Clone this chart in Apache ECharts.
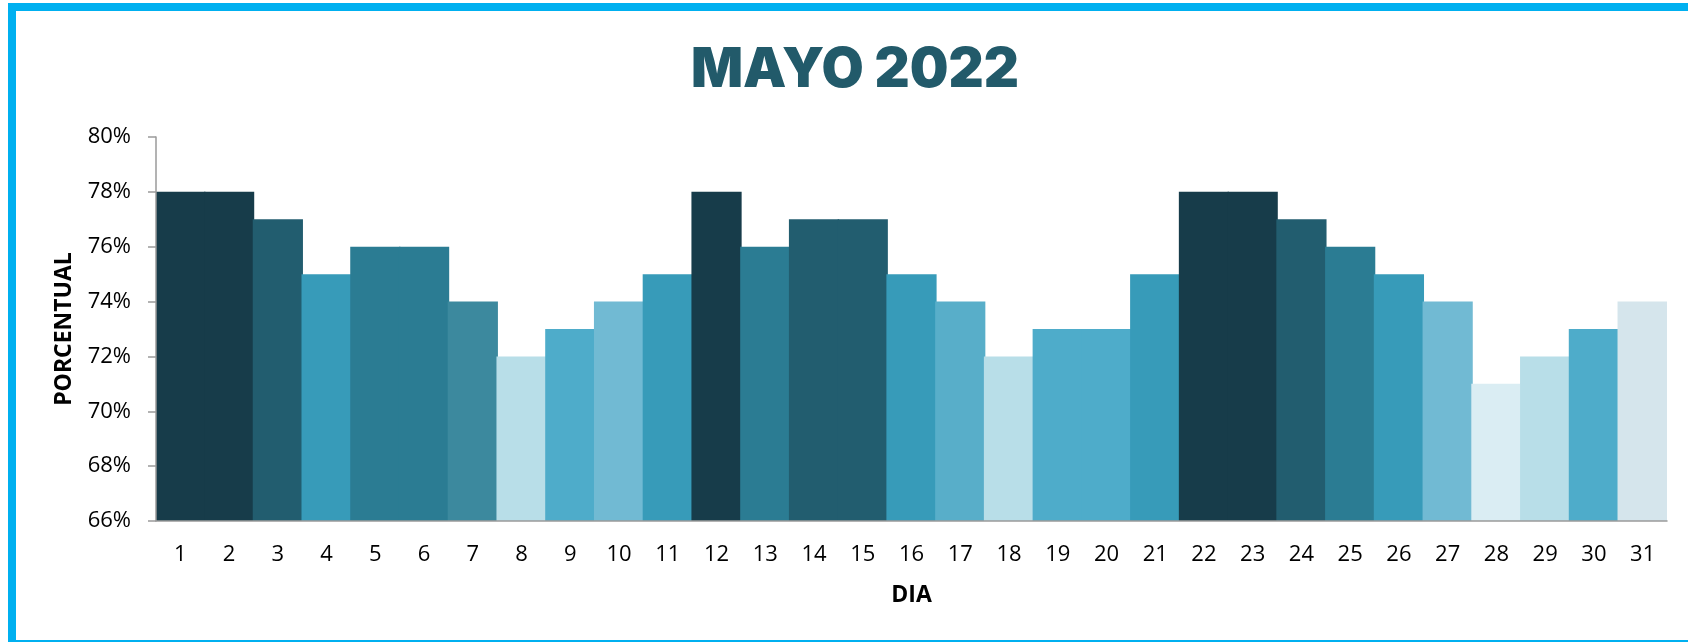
<!DOCTYPE html>
<html>
<head>
<meta charset="utf-8">
<title>MAYO 2022</title>
<script src="https://cdn.jsdelivr.net/npm/echarts@6/dist/echarts.min.js"></script>
<style>
  html, body {
    margin: 0;
    padding: 0;
    width: 1688px;
    height: 642px;
    overflow: hidden;
    background: #ffffff;
  }
  /* marco azul del gráfico */
  .chart-frame {
    position: absolute;
    left: 8px;
    top: 3px;
    width: 1720px;
    height: 645px;
    box-sizing: border-box;
    border: 8px solid #00b0f0;
    pointer-events: none;
  }
  #chart {
    position: absolute;
    left: 0;
    top: 0;
    width: 1688px;
    height: 642px;
  }
</style>
</head>
<body>
<div id="chart"></div>
<div class="chart-frame"></div>
<script>
  // días del mes
  const days = ['1', '2', '3', '4', '5', '6', '7', '8', '9', '10', '11', '12', '13', '14', '15', '16',
    '17', '18', '19', '20', '21', '22', '23', '24', '25', '26', '27', '28', '29', '30', '31'];

  // porcentual por día
  const porcentual = [78, 78, 77, 75, 76, 76, 74, 72, 73, 74, 75, 78, 76, 77, 77, 75,
    74, 72, 73, 73, 75, 78, 78, 77, 76, 75, 74, 71, 72, 73, 74];

  // color de cada barra
  const barColors = [
    '#173c4a', '#173c4a', '#225d6f', '#379bb9', '#2b7c93', '#2b7c93', '#3c899e', '#b8dee8',
    '#4eacca', '#71bad3', '#379bb9', '#173c4a', '#2b7c93', '#225d6f', '#225d6f', '#379bb9',
    '#58aec9', '#b8dee8', '#4eacca', '#4eacca', '#379bb9', '#173c4a', '#173c4a', '#225d6f',
    '#2b7c93', '#379bb9', '#71bad3', '#daedf3', '#b8dee8', '#4eacca', '#d5e5ec'
  ];

  // eje Y
  const yMin = 66;
  const yMax = 80;
  const yStep = 2;

  const chart = echarts.init(document.getElementById('chart'));

  const axisGray = '#9a9a9a';
  const labelFont = '"Open Sans", "Noto Sans", sans-serif';

  chart.setOption({
    animation: false,
    title: {
      text: 'MAYO 2022',
      left: 691,
      top: 43,
      padding: 0,
      textStyle: {
        fontFamily: 'Inter, "DejaVu Sans", sans-serif',
        fontWeight: 900,
        fontSize: 54.5,
        color: '#225a6a'
      }
    },
    grid: {
      left: 156,
      right: 21,
      top: 137,
      bottom: 121
    },
    xAxis: {
      type: 'category',
      data: days,
      z: 5,
      name: 'DIA',
      nameLocation: 'middle',
      nameGap: 63,
      nameTextStyle: {
        fontFamily: labelFont,
        fontWeight: 'bold',
        fontSize: 23,
        color: '#000000'
      },
      axisLine: { lineStyle: { color: axisGray, width: 1.5 } },
      axisTick: { show: false },
      splitLine: { show: false },
      axisLabel: {
        margin: 23,
        fontFamily: labelFont,
        fontSize: 22,
        color: '#000000'
      }
    },
    yAxis: {
      type: 'value',
      min: yMin,
      max: yMax,
      interval: yStep,
      z: 5,
      name: 'PORCENTUAL',
      nameLocation: 'middle',
      nameGap: 80,
      nameTextStyle: {
        fontFamily: labelFont,
        fontWeight: 'bold',
        fontSize: 23,
        color: '#000000'
      },
      axisLine: { show: true, lineStyle: { color: axisGray, width: 1.5 } },
      axisTick: { show: true, length: 8, lineStyle: { color: axisGray, width: 1.5 } },
      splitLine: { show: false },
      axisLabel: {
        margin: 25,
        formatter: '{value}%',
        fontFamily: labelFont,
        fontSize: 22,
        color: '#000000'
      }
    },
    series: [
      {
        type: 'bar',
        // un poco más ancho que la categoría para que no queden rayas entre barras
        barWidth: '103%',
        data: porcentual.map((v, i) => ({
          value: v,
          itemStyle: { color: barColors[i] }
        }))
      }
    ]
  });
</script>
</body>
</html>
